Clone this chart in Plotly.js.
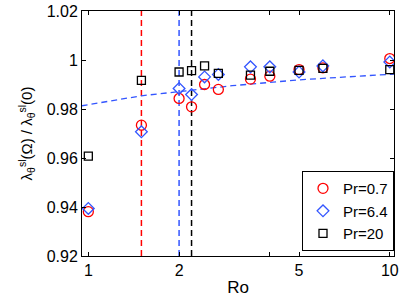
<!DOCTYPE html>
<html>
<head>
<meta charset="utf-8">
<script src="https://cdn.plot.ly/plotly-3.0.1.min.js"></script>
<style>html,body{margin:0;padding:0;background:#fff;}#chart{width:399px;height:300px;}</style>
</head>
<body>
<div id="chart"></div>
<script>
// Data
var ro = [1, 1.5, 2, 2.2, 2.43, 2.7, 3.45, 4, 5, 6, 10];
var pr07 = [0.9381, 0.9734, 0.9843, 0.9809, 0.9900, 0.9880, 0.9922, 0.9934, 0.9961, 0.9968, 1.0006];
var pr64 = [0.9394, 0.9707, 0.9884, 0.9859, 0.9931, 0.9941, 0.9972, 0.9972, 0.9951, 0.9976, 0.9992];
var pr20 = [0.9608, 0.9917, 0.9951, 0.9957, 0.9976, 0.9945, 0.9938, 0.9954, 0.9958, 0.9966, 0.9961];
var seriesNames = ['Pr=0.7', 'Pr=6.4', 'Pr=20'];

// Blue dashed fit curve
var fitX = [0.95, 1.5, 2, 3, 5, 7, 10, 10.4];
var fitY = [0.9813, 0.9854, 0.9871, 0.9895, 0.9919, 0.9930, 0.9942, 0.9943];

// Vertical dashed markers
var vlineX = [1.5, 2.0, 2.2];
var vlineColors = ['#ff0000', '#3355ff', '#000000'];
var yLimits = [0.92, 1.02];

var xTickVals = [1, 2, 4, 5, 10];
var xTickText = ['1', '2', '', '5', '10'];
var yTickVals = [0.92, 0.94, 0.96, 0.98, 1.0, 1.02];
var yTickText = ['0.92', '0.94', '0.96', '0.98', '1', '1.02'];

var traces = [];
for (var i = 0; i < vlineX.length; i++) {
  traces.push({x: [vlineX[i], vlineX[i]], y: yLimits, mode: 'lines', showlegend: false,
    hoverinfo: 'skip', line: {color: vlineColors[i], width: 1.5, dash: '6px,4px'}});
}
traces.push({x: fitX, y: fitY, mode: 'lines', showlegend: false, hoverinfo: 'skip',
  line: {color: '#3355ff', width: 1.3, dash: '6px,4px'}});
traces.push({x: ro, y: pr07, mode: 'markers', name: seriesNames[0],
  marker: {symbol: 'circle-open', size: 10, color: '#ff0000', line: {width: 1.3, color: '#ff0000'}}});
traces.push({x: ro, y: pr64, mode: 'markers', name: seriesNames[1],
  marker: {symbol: 'diamond-open', size: 9, color: '#3355ff', line: {width: 1.3, color: '#3355ff'}}});
traces.push({x: ro, y: pr20, mode: 'markers', name: seriesNames[2],
  marker: {symbol: 'square-open', size: 8, color: '#000000', line: {width: 1.3, color: '#000000'}}});

var axisCommon = {showgrid: false, zeroline: false, showline: true, linecolor: '#000', linewidth: 1,
  ticks: 'inside', ticklen: 4, tickcolor: '#000', mirror: 'ticks',
  tickfont: {family: 'Liberation Sans, Arial, sans-serif', size: 16, color: '#000'}};

var layout = {
  width: 399, height: 300,
  margin: {l: 82, r: 5, t: 11, b: 44},
  paper_bgcolor: '#fff', plot_bgcolor: '#fff',
  font: {family: 'Liberation Sans, Arial, sans-serif', size: 16, color: '#000'},
  xaxis: Object.assign({}, axisCommon, {type: 'log', range: [-0.021, 1.014],
    tickmode: 'array', tickvals: xTickVals, ticktext: xTickText,
    title: {text: 'Ro', font: {size: 17}, standoff: 2}}),
  yaxis: Object.assign({}, axisCommon, {range: [0.92, 1.02],
    tickmode: 'array', tickvals: yTickVals, ticktext: yTickText,
    title: {text: 'λ<sub>θ</sub><sup>sl</sup>(Ω) / λ<sub>θ</sub><sup>sl</sup>(0)', font: {size: 15}, standoff: 10}}),
  legend: {x: 1, xanchor: 'right', y: 0.02, yanchor: 'bottom', bgcolor: '#fff',
    bordercolor: '#000', borderwidth: 1, font: {size: 15}, tracegroupgap: 0, itemwidth: 30},
  showlegend: true
};

Plotly.newPlot('chart', traces, layout, {staticPlot: true, displayModeBar: false});
</script>
</body>
</html>
